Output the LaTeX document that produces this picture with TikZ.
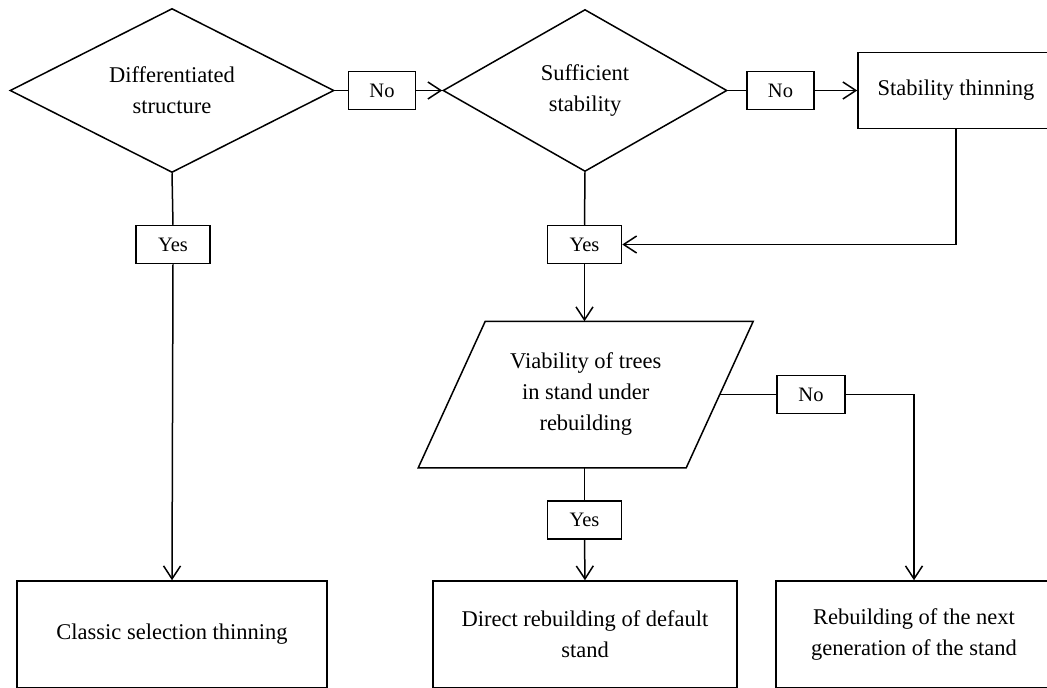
\documentclass[tikz,border=0pt]{standalone}
\usepackage{fontspec}
\setmainfont{Liberation Serif}
\usetikzlibrary{shapes.geometric,arrows.meta,calc}

\begin{document}
\begin{tikzpicture}[x=1pt,y=-1pt,line width=1.5pt,
  >={Straight Barb[length=13pt,width=17pt]},
  every node/.style={font=\fontsize{22.5}{31}\selectfont,align=center,inner sep=0pt},
  decision/.style={draw,diamond,aspect=2},
  query/.style={rectangle,minimum width=266.5,minimum height=145},
  action/.style={draw,rectangle,minimum height=107},
  answer/.style={draw,rectangle,minimum height=38,minimum width=#1,font=\fontsize{20.5}{24}\selectfont},
  answer/.default=74]
  \useasboundingbox (0,0) rectangle (1047,688);
  \clip (0,0) rectangle (1047,688);

  %Shape: Diamond [decisions]
  \node (diffStruct) at (172,90.5) [decision,minimum width=324,minimum height=164] {Differentiated\\structure};
  \node (suffStab) at (585,90.5) [decision,minimum width=284,minimum height=162] {Sufficient\\stability};
  %Shape: Parallelogram
  \node (viab) at (585.75,394.5) [query] {Viability of trees\\in stand under\\rebuilding};
  \draw ($(viab.north west)+(33.5,0)$) -- ($(viab.north east)+(33.5,0)$)
    -- ($(viab.south east)-(33.5,0)$) -- ($(viab.south west)-(33.5,0)$) -- cycle;

  %Shape: Rectangle [actions]
  \node (stabThin) at (956,90.5) [action,minimum width=196,minimum height=76] {Stability thinning};
  \node (classic) at (172,634.5) [action,minimum width=310] {Classic selection thinning};
  \node (direct) at (585,634.5) [action,minimum width=304] {Direct rebuilding of default\\stand};
  \node (nextGen) at (914,634.5) [action,minimum width=276] {Rebuilding of the next\\generation of the stand};

  % Text Node [answers]
  \node (noA) at (382,90.5) [answer=67] {No};
  \node (noB) at (780.5,90.5) [answer=67] {No};
  \node (noC) at (811,394.5) [answer=68] {No};
  \node (yesA) at (173,244.5) [answer] {Yes};
  \node (yesB) at (584.5,244.5) [answer] {Yes};
  \node (yesC) at (584.5,520) [answer] {Yes};

  %Straight Lines
  \draw (diffStruct.east) -- (noA.west);
  \draw [->] (noA.east) -- (suffStab.west);
  \draw (suffStab.east) -- (noB.west);
  \draw [->] (noB.east) -- (stabThin.west);
  \draw (diffStruct.south) -- (yesA.north);
  \draw [->] (yesA.south) -- (classic.north);
  \draw (suffStab.south) -- (yesB.north);
  \draw [->] (stabThin.south) |- (yesB.east);
  \draw [->] (yesB.south) -- (yesB.south |- viab.north);
  \draw (viab.east) -- (noC.west);
  \draw [->] (noC.east) -| (nextGen.north);
  \draw (yesC.north |- viab.south) -- (yesC.north);
  \draw [->] (yesC.south) -- (direct.north);

\end{tikzpicture}
\end{document}
